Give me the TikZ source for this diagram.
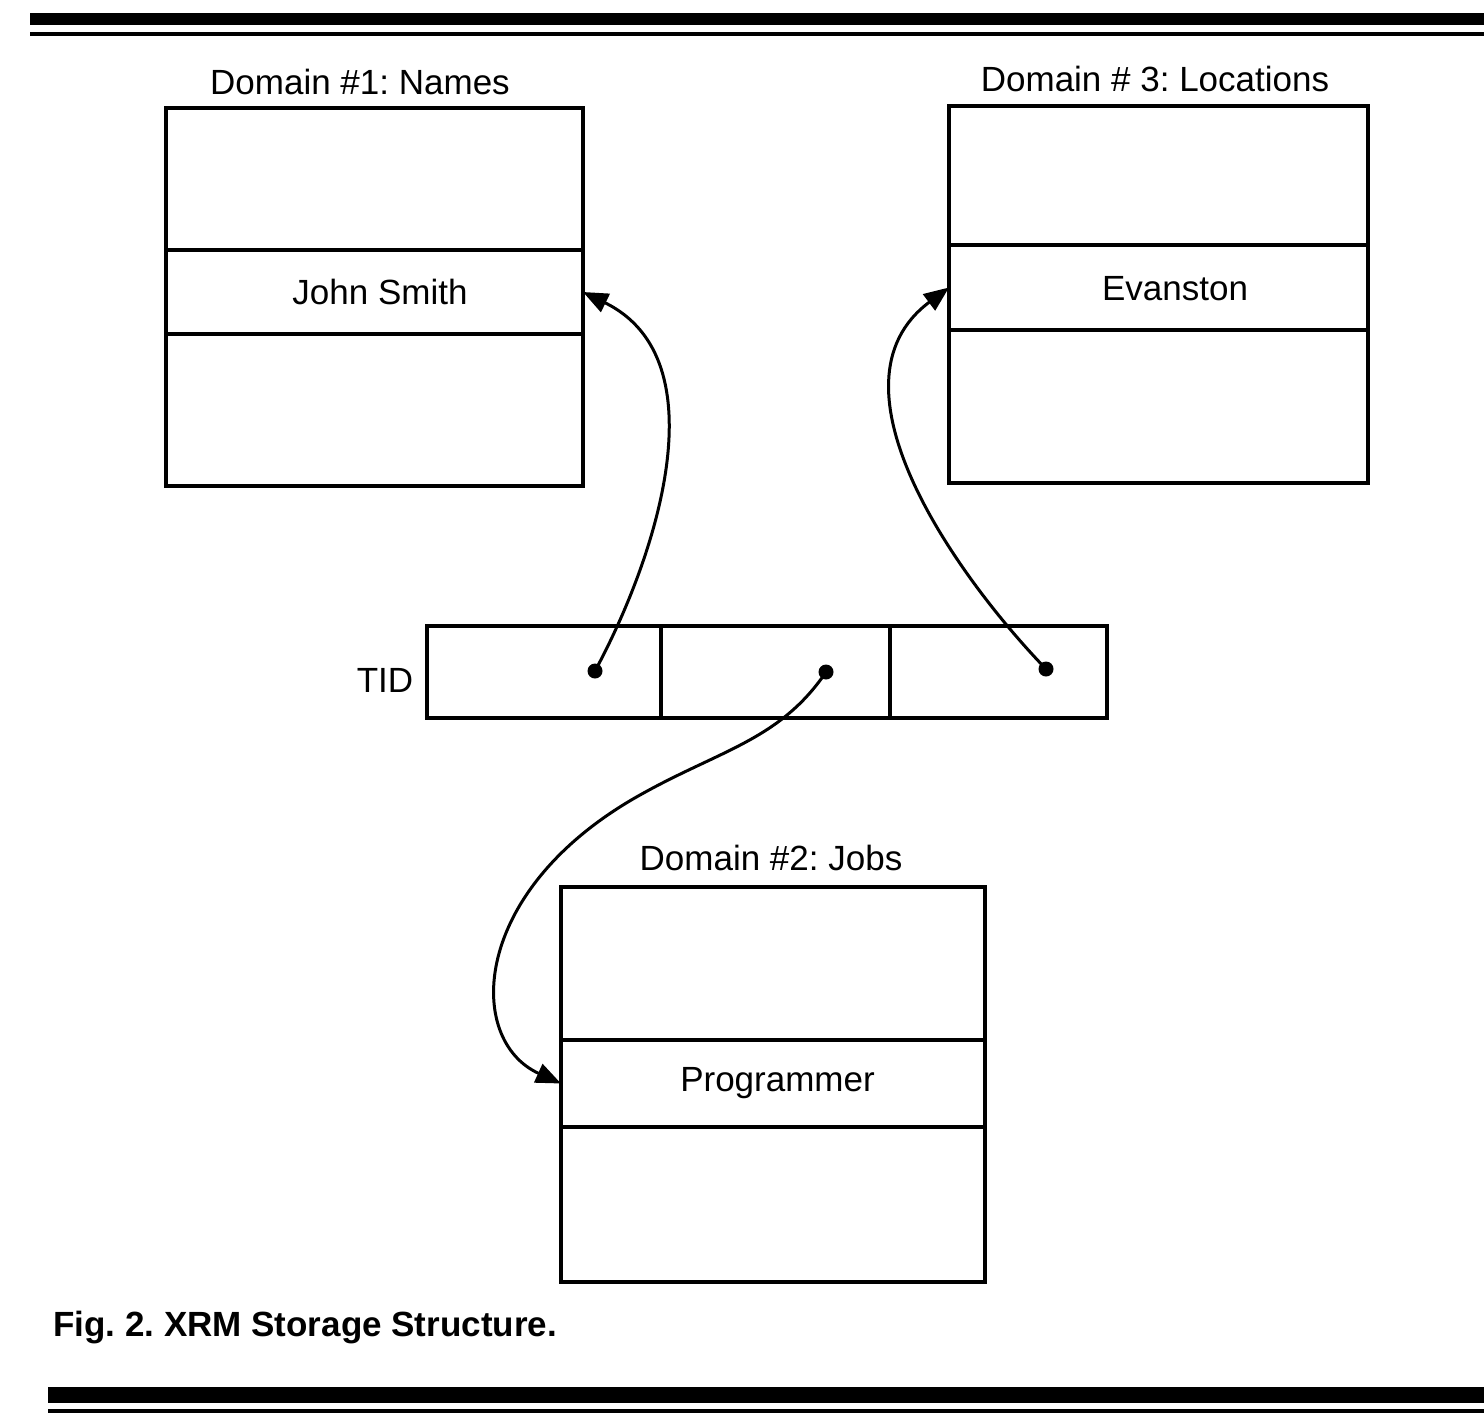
\documentclass[tikz,border=0pt]{standalone}
\usepackage{fontspec}
\setmainfont{Liberation Sans}
\usetikzlibrary{arrows.meta}
\frenchspacing
\begin{document}
\begin{tikzpicture}[x=1pt,y=-1pt,
  cell/.style={draw,line width=3.4pt,inner sep=0pt,outer sep=0pt,rectangle},
  lbl/.style={inner sep=0pt,font=\fontsize{35}{40}\selectfont},
  dot/.style={circle,fill,inner sep=0pt,minimum size=15pt},
  link/.style={line width=3pt,-{Triangle[length=25pt,width=20pt]}}]
\useasboundingbox (0,0) rectangle (1484,1422);
% rules
\fill (30,13) rectangle (1484,25);
\fill (30,32) rectangle (1484,36);
\fill (48,1387) rectangle (1484,1403);
\fill (48,1409) rectangle (1484,1413);
% Domain 1
\node[lbl] (t1) at (360,82) {Domain \#1: Names};
\node[cell,minimum width=417pt,minimum height=142pt] (d1a) at (374.5,179) {};
\node[cell,minimum width=417pt,minimum height=84pt] (d1b) at (374.5,292) {};
\node[cell,minimum width=417pt,minimum height=152pt] (d1c) at (374.5,410) {};
\node[lbl] (js) at (380,292) {John Smith};
% Domain 3
\node[lbl] (t3) at (1155,79) {Domain \# 3: Locations};
\node[cell,minimum width=419pt,minimum height=139pt] (d3a) at (1158.5,175.5) {};
\node[cell,minimum width=419pt,minimum height=85pt] (d3b) at (1158.5,287.5) {};
\node[cell,minimum width=419pt,minimum height=153pt] (d3c) at (1158.5,406.5) {};
\node[lbl] (ev) at (1175,289) {Evanston};
% Domain 2
\node[lbl] (t2) at (771,858) {Domain \#2: Jobs};
\node[cell,minimum width=424pt,minimum height=153pt] (d2a) at (773,963.5) {};
\node[cell,minimum width=424pt,minimum height=87pt] (d2b) at (773,1083.5) {};
\node[cell,minimum width=424pt,minimum height=155pt] (d2c) at (773,1204.5) {};
\node[lbl] (pg) at (777.5,1083) {Programmer};
% TID
\node[lbl] (tid) at (385,680) {TID};
\node[cell,minimum width=234pt,minimum height=92pt] (c1) at (544,672) {};
\node[cell,minimum width=229pt,minimum height=92pt] (c2) at (775.5,672) {};
\node[cell,minimum width=217pt,minimum height=92pt] (c3) at (998.5,672) {};
\node[dot] (p1) at (595,671) {};
\node[dot] (p2) at (826,672) {};
\node[dot] (p3) at (1046,669) {};
% links
\draw[link] (p1.center) .. controls (655,560) and (722,360) .. (d1b.east);
\draw[link] (p3.center) .. controls (960,580) and (818,385) .. (d3b.west);
\draw[link] (p2.center) .. controls (780,740) and (720,750) .. (640,795)
   .. controls (470,890) and (465,1040) .. (d2b.west);
% caption
\node[lbl,anchor=west,font=\fontsize{35}{40}\selectfont\bfseries] (cap) at (53,1328) {Fig. 2. XRM Storage Structure.};
\end{tikzpicture}
\end{document}
